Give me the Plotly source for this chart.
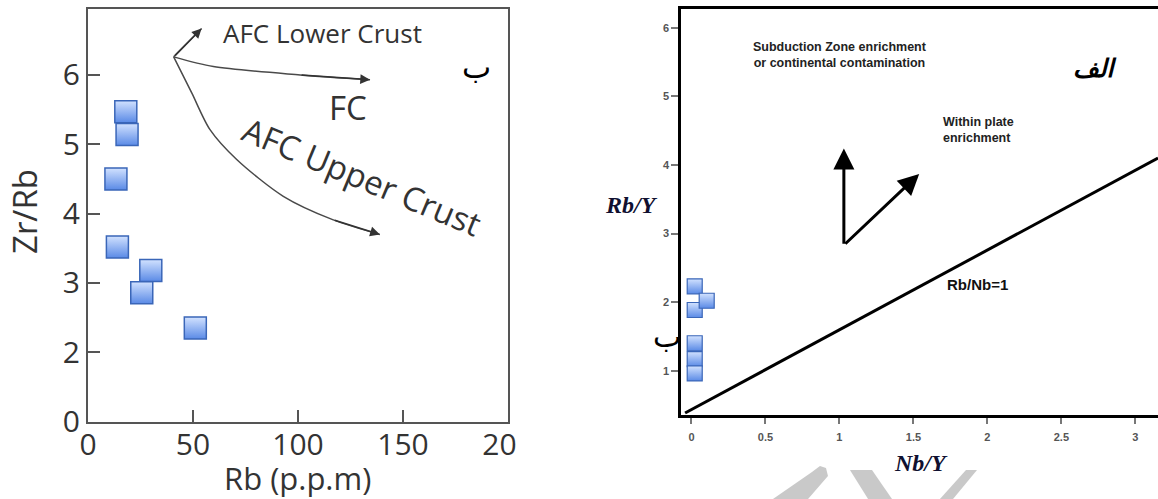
import plotly.graph_objects as go

W, H = 1158, 499

# ---------------- Left panel (ب): Zr/Rb vs Rb ----------------
rb_ppm = [18.0, 18.6, 13.3, 14.0, 29.9, 25.6, 51.1]
zr_rb = [5.47, 5.14, 4.50, 3.52, 3.18, 2.86, 2.35]

afc_low_x = [40.8, 54.1]
afc_low_y = [6.26, 6.67]
fc_x = [40.8, 59.7, 101.0, 134.3]
fc_y = [6.26, 6.12, 6.00, 5.93]
afc_up_x = [40.8, 49.4, 58.1, 70.8, 93.0, 116.8, 139.0]
afc_up_y = [6.26, 5.74, 5.21, 4.78, 4.25, 3.91, 3.70]

left_xticks = [0, 50, 100, 150, 200]
left_xtext = ["0", "50", "100", "150", "20<span style='color:rgba(0,0,0,0)'>0</span>"]
left_yticks = [1, 2, 3, 4, 5, 6]
left_ytext = ["0", "2", "3", "4", "5", "6"]

# ---------------- Right panel (الف): Rb/Y vs Nb/Y ----------------
nb_y = [0.022, 0.022, 0.103, 0.022, 0.022, 0.022]
rb_y = [2.23, 1.885, 2.02, 1.40, 1.17, 0.96]

ref_line_x = [-0.043, 3.153]
ref_line_y = [0.383, 4.10]

arrow_base = (1.03, 2.83)
arrow_up_tip = (1.03, 4.24)
arrow_diag_tip = (1.539, 3.87)

right_xticks = [0, 0.5, 1, 1.5, 2, 2.5, 3]
right_xtext = ["0", "0.5", "1", "1.5", "2", "2.5", "3"]
right_yticks = [1, 2, 3, 4, 5, 6]
right_ytext = ["1", "2", "3", "4", "5", "6"]

fig = go.Figure()

sq_marker_left = dict(symbol="square", size=22, color="#d2e2ff",
                      gradient=dict(type="vertical", color="#5a8ae6"),
                      line=dict(color="#3a66b8", width=1.5))
sq_marker_right = dict(symbol="square", size=15, color="#d2e2ff",
                       gradient=dict(type="vertical", color="#5a8ae6"),
                       line=dict(color="#3a66b8", width=1.2))

curve_line = dict(color="#4a4a4a", width=1.5, shape="spline", smoothing=0.8)
fig.add_trace(go.Scatter(x=afc_low_x, y=afc_low_y, mode="lines", line=curve_line,
                         xaxis="x", yaxis="y", showlegend=False, hoverinfo="skip"))
fig.add_trace(go.Scatter(x=fc_x, y=fc_y, mode="lines", line=curve_line,
                         xaxis="x", yaxis="y", showlegend=False, hoverinfo="skip"))
fig.add_trace(go.Scatter(x=afc_up_x, y=afc_up_y, mode="lines", line=curve_line,
                         xaxis="x", yaxis="y", showlegend=False, hoverinfo="skip"))
fig.add_trace(go.Scatter(x=rb_ppm, y=zr_rb, mode="markers", marker=sq_marker_left,
                         xaxis="x", yaxis="y", showlegend=False))

fig.add_trace(go.Scatter(x=ref_line_x, y=ref_line_y, mode="lines",
                         line=dict(color="black", width=3),
                         xaxis="x2", yaxis="y2", showlegend=False, hoverinfo="skip"))
fig.add_trace(go.Scatter(x=nb_y, y=rb_y, mode="markers", marker=sq_marker_right,
                         xaxis="x2", yaxis="y2", showlegend=False, cliponaxis=False))

sans = "Open Sans"
arial = "Liberation Sans, Arial"
serif = "Liberation Serif, Times New Roman"
C = dict(xanchor="center", yanchor="middle", showarrow=False)

ann = []
# curve arrowheads (left)
for xs, ys in [(afc_low_x, afc_low_y), (fc_x, fc_y), (afc_up_x, afc_up_y)]:
    ann.append(dict(x=xs[-1], y=ys[-1], ax=xs[-2], ay=ys[-2], xref="x", yref="y",
                    axref="x", ayref="y", text="", showarrow=True, arrowhead=2,
                    arrowsize=1.3, arrowwidth=1.5, arrowcolor="#333"))
ann += [
    dict(x=111.7, y=6.61, xref="x", yref="y", text="AFC Lower Crust",
         font=dict(family=sans, size=26, color="#333"), **C),
    dict(x=123.6, y=5.53, xref="x", yref="y", text="FC",
         font=dict(family=sans, size=33, color="#333"), **C),
    dict(x=130.3, y=4.54, xref="x", yref="y", text="AFC Upper Crust",
         textangle=22.6, font=dict(family=sans, size=33, color="#333"), **C),
    dict(x=185.1, y=6.12, xref="x", yref="y", text="ب",
         font=dict(family="DejaVu Sans", size=31, color="black"), **C),
    dict(x=24 / W, y=1 - 212 / H, xref="paper", yref="paper", text="Zr/Rb",
         textangle=-90, font=dict(family=sans, size=33, color="#333"), **C),
    dict(x=297 / W, y=1 - 478 / H, xref="paper", yref="paper", text="Rb (p.p.m)",
         font=dict(family=sans, size=31, color="#333"), **C),
]
# right panel arrows
ann.append(dict(x=arrow_up_tip[0], y=arrow_up_tip[1], ax=arrow_base[0], ay=arrow_base[1],
                xref="x2", yref="y2", axref="x2", ayref="y2", text="", showarrow=True,
                arrowhead=2, arrowsize=1.4, arrowwidth=3, arrowcolor="black"))
ann.append(dict(x=arrow_diag_tip[0], y=arrow_diag_tip[1], ax=arrow_base[0], ay=arrow_base[1],
                xref="x2", yref="y2", axref="x2", ayref="y2", text="", showarrow=True,
                arrowhead=2, arrowsize=1.4, arrowwidth=3, arrowcolor="black"))
ann += [
    dict(x=1.003, y=5.6, xref="x2", yref="y2",
         text="Subduction Zone enrichment<br>or continental contamination", align="center",
         font=dict(family=arial, size=12.5, color="#222", weight="bold"), **C),
    dict(x=1.684, y=4.51, xref="x2", yref="y2", xanchor="left", yanchor="middle",
         text="Within plate<br>enrichment", showarrow=False, align="left",
         font=dict(family=arial, size=12.5, color="#222", weight="bold")),
    dict(x=1.933, y=2.25, xref="x2", yref="y2", text="Rb/Nb=1",
         font=dict(family=arial, size=15, color="#111", weight="bold"), **C),
    dict(x=2.727, y=5.41, xref="x2", yref="y2", text="الف",
         font=dict(family="DejaVu Sans", size=25, color="black", weight="bold", style="italic"), **C),
    dict(x=666.6 / W, y=1 - 336 / H, xref="paper", yref="paper", text="ب",
         font=dict(family="DejaVu Sans", size=30, color="black"), **C),
    dict(x=631.5 / W, y=1 - 205 / H, xref="paper", yref="paper", text="Rb/Y",
         font=dict(family=serif, size=24, color="#101030", weight="bold", style="italic"), **C),
    dict(x=921 / W, y=1 - 463 / H, xref="paper", yref="paper", text="Nb/Y",
         font=dict(family=serif, size=24, color="#101030", weight="bold", style="italic"), **C),
]

def P(x, y):
    return f"{x / W:.4f},{1 - y / H:.4f}"

wm = "#c9c9c9"
shapes = [
    dict(type="path", xref="paper", yref="paper", fillcolor=wm, line=dict(width=0),
         path="M " + " L ".join(P(*p) for p in [(773, 499), (812, 472), (820, 466), (826, 468), (828, 476), (808, 499)]) + " Z"),
    dict(type="path", xref="paper", yref="paper", fillcolor=wm, line=dict(width=0),
         path="M " + " L ".join(P(*p) for p in [(850, 470), (872, 470), (892, 499), (868, 499)]) + " Z"),
    dict(type="path", xref="paper", yref="paper", fillcolor=wm, line=dict(width=0),
         path="M " + " L ".join(P(*p) for p in [(966, 470), (977, 470), (953, 499), (940, 499)]) + " Z"),
]

fig.update_layout(
    width=W, height=H,
    margin=dict(l=0, r=0, t=0, b=0, pad=0),
    paper_bgcolor="white", plot_bgcolor="white",
    showlegend=False,
    annotations=ann,
    shapes=shapes,
    xaxis=dict(domain=[88 / W, 508 / W], range=[0, 200], anchor="y", automargin=False,
               showline=True, mirror=True, linecolor="#555", linewidth=2,
               ticks="inside", ticklen=12, tickwidth=2, tickcolor="#555",
               tickvals=left_xticks, ticktext=left_xtext, ticklabelstandoff=-5,
               tickfont=dict(family=sans, size=30, color="#333"),
               showgrid=False, zeroline=False),
    yaxis=dict(domain=[1 - 421.7 / H, 1 - 9 / H], range=[1, 6.95], anchor="x", automargin=False,
               showline=True, mirror=True, linecolor="#555", linewidth=2,
               ticks="inside", ticklen=12, tickwidth=2, tickcolor="#555",
               tickvals=left_yticks, ticktext=left_ytext,
               tickfont=dict(family=sans, size=30, color="#333"),
               showgrid=False, zeroline=False),
    xaxis2=dict(domain=[681.4 / W, 1.0], range=[-0.068, 3.153], anchor="y2", automargin=False,
                showline=True, mirror=True, linecolor="black", linewidth=3,
                ticks="outside", ticklen=6, tickwidth=1.5, tickcolor="#777",
                tickvals=right_xticks, ticktext=right_xtext, ticklabelstandoff=4,
                tickfont=dict(family=arial, size=11, color="#555", weight="bold"),
                showgrid=False, zeroline=False),
    yaxis2=dict(domain=[1 - 415 / H, 1 - 9.3 / H], range=[0.354, 6.27], anchor="x2", automargin=False,
                showline=True, mirror=False, linecolor="black", linewidth=3,
                ticks="outside", ticklen=7, tickwidth=1.5, tickcolor="#777",
                tickvals=right_yticks, ticktext=right_ytext,
                tickfont=dict(family=arial, size=11, color="#555", weight="bold"),
                showgrid=False, zeroline=False),
)

fig.write_html("out.html", config={"displayModeBar": False},
               post_script="document.body.style.margin='0';document.body.style.overflow='hidden';")
